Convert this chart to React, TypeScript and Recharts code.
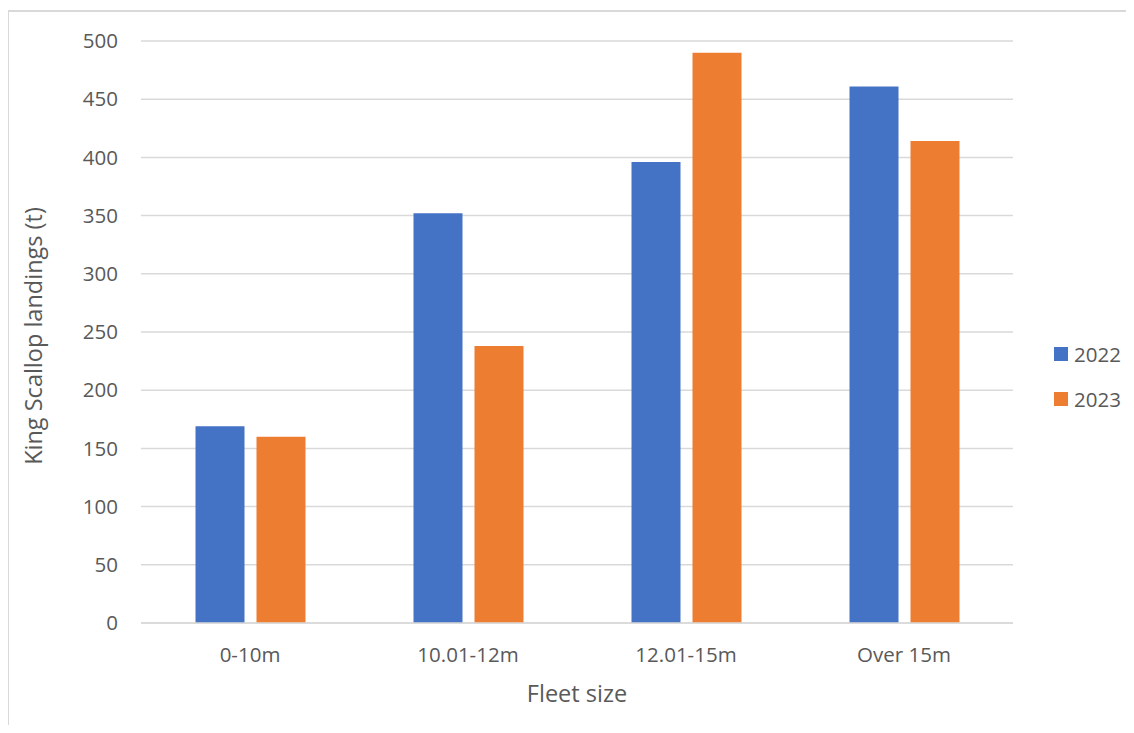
import { Bar, BarChart, CartesianGrid, Legend, XAxis, YAxis } from "recharts";

const fleetSizes = ["0-10m", "10.01-12m", "12.01-15m", "Over 15m"];
const landings2022 = [169, 352, 396, 461];
const landings2023 = [160, 238, 490, 414];
const yTicks = [0, 50, 100, 150, 200, 250, 300, 350, 400, 450, 500];
const seriesNames = ["2022", "2023"];
const seriesColors = ["#4472C4", "#ED7D31"];

const rows = fleetSizes.map((fleet, i) => ({
  fleet,
  "2022": landings2022[i],
  "2023": landings2023[i],
}));

const FONT = "'Open Sans', sans-serif";
const TEXT = "#595959";
const TICK_SIZE = 20.5;
const TITLE_SIZE = 23.5;

function LegendBox() {
  return (
    <div style={{ fontFamily: FONT, fontSize: 20.5, color: TEXT }}>
      {seriesNames.map((name, i) => (
        <div key={name} style={{ display: "flex", alignItems: "center", height: 45 }}>
          <span style={{ width: 14, height: 14, background: seriesColors[i], marginRight: 6 }} />
          <span>{name}</span>
        </div>
      ))}
    </div>
  );
}

export default function App() {
  return (
    <div style={{ position: "relative", width: 1134, height: 733, margin: -8, overflow: "hidden", background: "#fff" }}>
      <div
        style={{
          position: "absolute",
          left: 7,
          top: 10,
          width: 1200,
          height: 800,
          borderLeft: "2px solid #d9d9d9",
          borderTop: "2px solid #d9d9d9",
        }}
      />
      <BarChart
        width={1134}
        height={733}
        data={rows}
        margin={{ top: 41, right: 121, bottom: 80, left: 81 }}
        barCategoryGap="25%"
        barGap={12}
        style={{ position: "absolute", left: 0, top: 0 }}
      >
        <CartesianGrid vertical={false} stroke="#d9d9d9" strokeWidth={1.5} />
        <XAxis
          dataKey="fleet"
          axisLine={{ stroke: "#d9d9d9", strokeWidth: 1.5 }}
          tickLine={false}
          tickMargin={18}
          tick={{ fill: TEXT, fontSize: TICK_SIZE, fontFamily: FONT }}
          label={{ value: "Fleet size", position: "bottom", offset: 32, fill: TEXT, fontSize: TITLE_SIZE, fontFamily: FONT }}
        />
        <YAxis
          width={60}
          domain={[0, 500]}
          ticks={yTicks}
          axisLine={false}
          tickLine={false}
          tickMargin={17}
          tick={{ fill: TEXT, fontSize: TICK_SIZE, fontFamily: FONT }}
          label={{
            content: (props: any) => {
              const vb = props.viewBox || {};
              const cx = vb.x - 48;
              const cy = vb.y + vb.height / 2 + 4;
              return (
                <text
                  x={cx}
                  y={cy}
                  transform={`rotate(-90 ${cx} ${cy})`}
                  textAnchor="middle"
                  dominantBaseline="central"
                  fill={TEXT}
                  fontSize={TITLE_SIZE}
                  fontFamily={FONT}
                >
                  King Scallop landings (t)
                </text>
              );
            },
          }}
        />
        <Legend
          layout="vertical"
          align="center"
          verticalAlign="middle"
          content={() => <LegendBox />}
          wrapperStyle={{ left: 1054, top: 331, width: 80 }}
        />
        {seriesNames.map((name, i) => (
          <Bar key={name} dataKey={name} fill={seriesColors[i]} isAnimationActive={false} />
        ))}
      </BarChart>
    </div>
  );
}
